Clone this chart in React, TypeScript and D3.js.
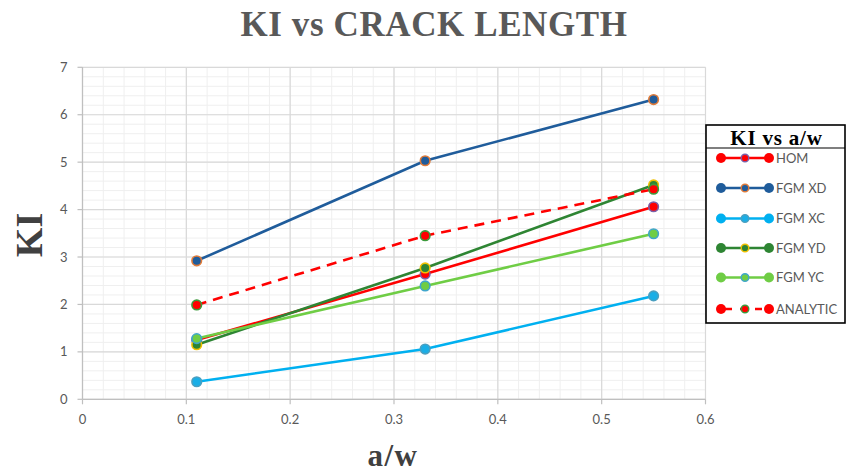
import React from "react";
import * as d3 from "d3";

const W = 846;
const H = 474;

// crack length ratio a/w
const aw = [0.11, 0.33, 0.55];
// KI per configuration
const hom = [1.25, 2.64, 4.06];
const fgmXD = [2.92, 5.03, 6.32];
const fgmXC = [0.37, 1.06, 2.18];
const fgmYD = [1.15, 2.77, 4.52];
const fgmYC = [1.28, 2.39, 3.49];
const analytic = [1.99, 3.45, 4.43];

const xTicks = [0, 0.1, 0.2, 0.3, 0.4, 0.5, 0.6];
const yTicks = [0, 1, 2, 3, 4, 5, 6, 7];

type Series = {
  name: string;
  values: number[];
  line: string;
  fill: string;
  stroke: string;
  dashed?: boolean;
};

const series: Series[] = [
  { name: "HOM", values: hom, line: "#ff0000", fill: "#ff0000", stroke: "#7b5fa8" },
  { name: "FGM XD", values: fgmXD, line: "#1f5c9b", fill: "#1f5c9b", stroke: "#e07b39" },
  { name: "FGM XC", values: fgmXC, line: "#00b0f0", fill: "#1aaee6", stroke: "#4a9fc0" },
  { name: "FGM YD", values: fgmYD, line: "#2e8533", fill: "#2e8533", stroke: "#f0c000" },
  { name: "FGM YC", values: fgmYC, line: "#6fcd45", fill: "#6fcd45", stroke: "#3fa6cc" },
  { name: "ANALYTIC", values: analytic, line: "#ff0000", fill: "#ff0000", stroke: "#3c9a3c", dashed: true },
];

const sans = "Lato, 'Liberation Sans', sans-serif";
const serif = "'Liberation Serif', 'DejaVu Serif', serif";

export default function App() {
  const x = d3.scaleLinear().domain([0, 0.6]).range([82.5, 705.5]);
  const y = d3.scaleLinear().domain([0, 7]).range([399.3, 67.3]);

  const minorX = d3.range(0, 0.6001, 0.02).map((v) => +v.toFixed(2));
  const minorY = d3.range(0, 7.0001, 0.2).map((v) => +v.toFixed(1));

  const line = d3
    .line<number>()
    .x((_, i) => x(aw[i]))
    .y((d) => y(d));

  const legX = 706;
  const legY = 125;
  const legW = 139;
  const legH = 198;
  const rowYs = [158, 188, 218.5, 248, 277.5, 309];

  return (
    <svg
      width={W}
      height={H}
      style={{ position: "fixed", left: 0, top: 0, background: "#fff" }}
    >
      <rect x={0} y={0} width={W} height={H} fill="#fff" />
      <text
        x={434}
        y={36}
        textAnchor="middle"
        fontFamily={serif}
        fontWeight="bold"
        fontSize={35}
        letterSpacing={0.6}
        fill="#595959"
      >
        KI vs CRACK LENGTH
      </text>

      {/* minor grid */}
      <g stroke="#efefef" strokeWidth={1}>
        {minorX.map((v) => (
          <line key={"mx" + v} x1={x(v)} x2={x(v)} y1={y(7)} y2={y(0)} />
        ))}
        {minorY.map((v) => (
          <line key={"my" + v} x1={x(0)} x2={x(0.6)} y1={y(v)} y2={y(v)} />
        ))}
      </g>
      {/* major grid */}
      <g stroke="#d9d9d9" strokeWidth={1.2}>
        {xTicks.map((v) => (
          <line key={"gx" + v} x1={x(v)} x2={x(v)} y1={y(7)} y2={y(0)} />
        ))}
        {yTicks.map((v) => (
          <line key={"gy" + v} x1={x(0)} x2={x(0.6)} y1={y(v)} y2={y(v)} />
        ))}
      </g>

      {/* axes */}
      <g stroke="#bfbfbf" strokeWidth={1.2}>
        <line x1={x(0)} x2={x(0)} y1={y(7)} y2={y(0)} />
        <line x1={x(0)} x2={x(0.6)} y1={y(0)} y2={y(0)} />
        {yTicks.map((v) => (
          <line key={"ty" + v} x1={x(0) - 5} x2={x(0)} y1={y(v)} y2={y(v)} />
        ))}
        {xTicks.map((v) => (
          <line key={"tx" + v} x1={x(v)} x2={x(v)} y1={y(0)} y2={y(0) + 5} />
        ))}
      </g>
      <g fontFamily={sans} fontSize={13} fill="#595959">
        {yTicks.map((v) => (
          <text key={"ly" + v} x={x(0) - 15} y={y(v) + 4.5} textAnchor="end">
            {v}
          </text>
        ))}
        {xTicks.map((v) => (
          <text key={"lx" + v} x={x(v)} y={y(0) + 25} textAnchor="middle">
            {v}
          </text>
        ))}
      </g>

      <text
        transform={`translate(42,235) rotate(-90)`}
        textAnchor="middle"
        fontFamily={serif}
        fontWeight="bold"
        fontSize={38}
        fill="#404040"
      >
        KI
      </text>
      <text
        x={393}
        y={466}
        textAnchor="middle"
        fontFamily={serif}
        fontWeight="bold"
        fontSize={31}
        letterSpacing={1.5}
        fill="#404040"
      >
        a/w
      </text>

      {/* series */}
      {series.map((s) => (
        <g key={s.name}>
          <path
            d={line(s.values) || ""}
            fill="none"
            stroke={s.line}
            strokeWidth={2.6}
            strokeDasharray={s.dashed ? "10 7" : undefined}
          />
          {s.values.map((v, i) => (
            <circle
              key={i}
              cx={x(aw[i])}
              cy={y(v)}
              r={4.8}
              fill={s.fill}
              stroke={s.stroke}
              strokeWidth={1.6}
            />
          ))}
        </g>
      ))}

      {/* legend */}
      <rect
        x={legX}
        y={legY}
        width={legW}
        height={legH}
        fill="#fff"
        stroke="#000"
        strokeWidth={1.6}
      />
      <line x1={legX} x2={legX + legW} y1={148} y2={148} stroke="#000" strokeWidth={1.2} />
      <text
        x={legX + legW / 2 + 1}
        y={145}
        textAnchor="middle"
        fontFamily={serif}
        fontWeight="bold"
        fontSize={21}
        letterSpacing={0.8}
        fill="#000"
      >
        KI vs a/w
      </text>
      {series.map((s, i) => {
        const cy = rowYs[i];
        return (
          <g key={"leg" + s.name}>
            <line
              x1={721}
              x2={769}
              y1={cy}
              y2={cy}
              stroke={s.line}
              strokeWidth={2.4}
              strokeDasharray={s.dashed ? "7 8" : undefined}
              strokeDashoffset={s.dashed ? -4 : 0}
            />
            <circle cx={721} cy={cy} r={5} fill={s.line} />
            <circle cx={769} cy={cy} r={5} fill={s.line} />
            <circle cx={745} cy={cy} r={3.8} fill={s.fill} stroke={s.stroke} strokeWidth={1.4} />
            <text x={776} y={cy + 4.5} fontFamily={sans} fontSize={13} fill="#595959">
              {s.name}
            </text>
          </g>
        );
      })}
    </svg>
  );
}
